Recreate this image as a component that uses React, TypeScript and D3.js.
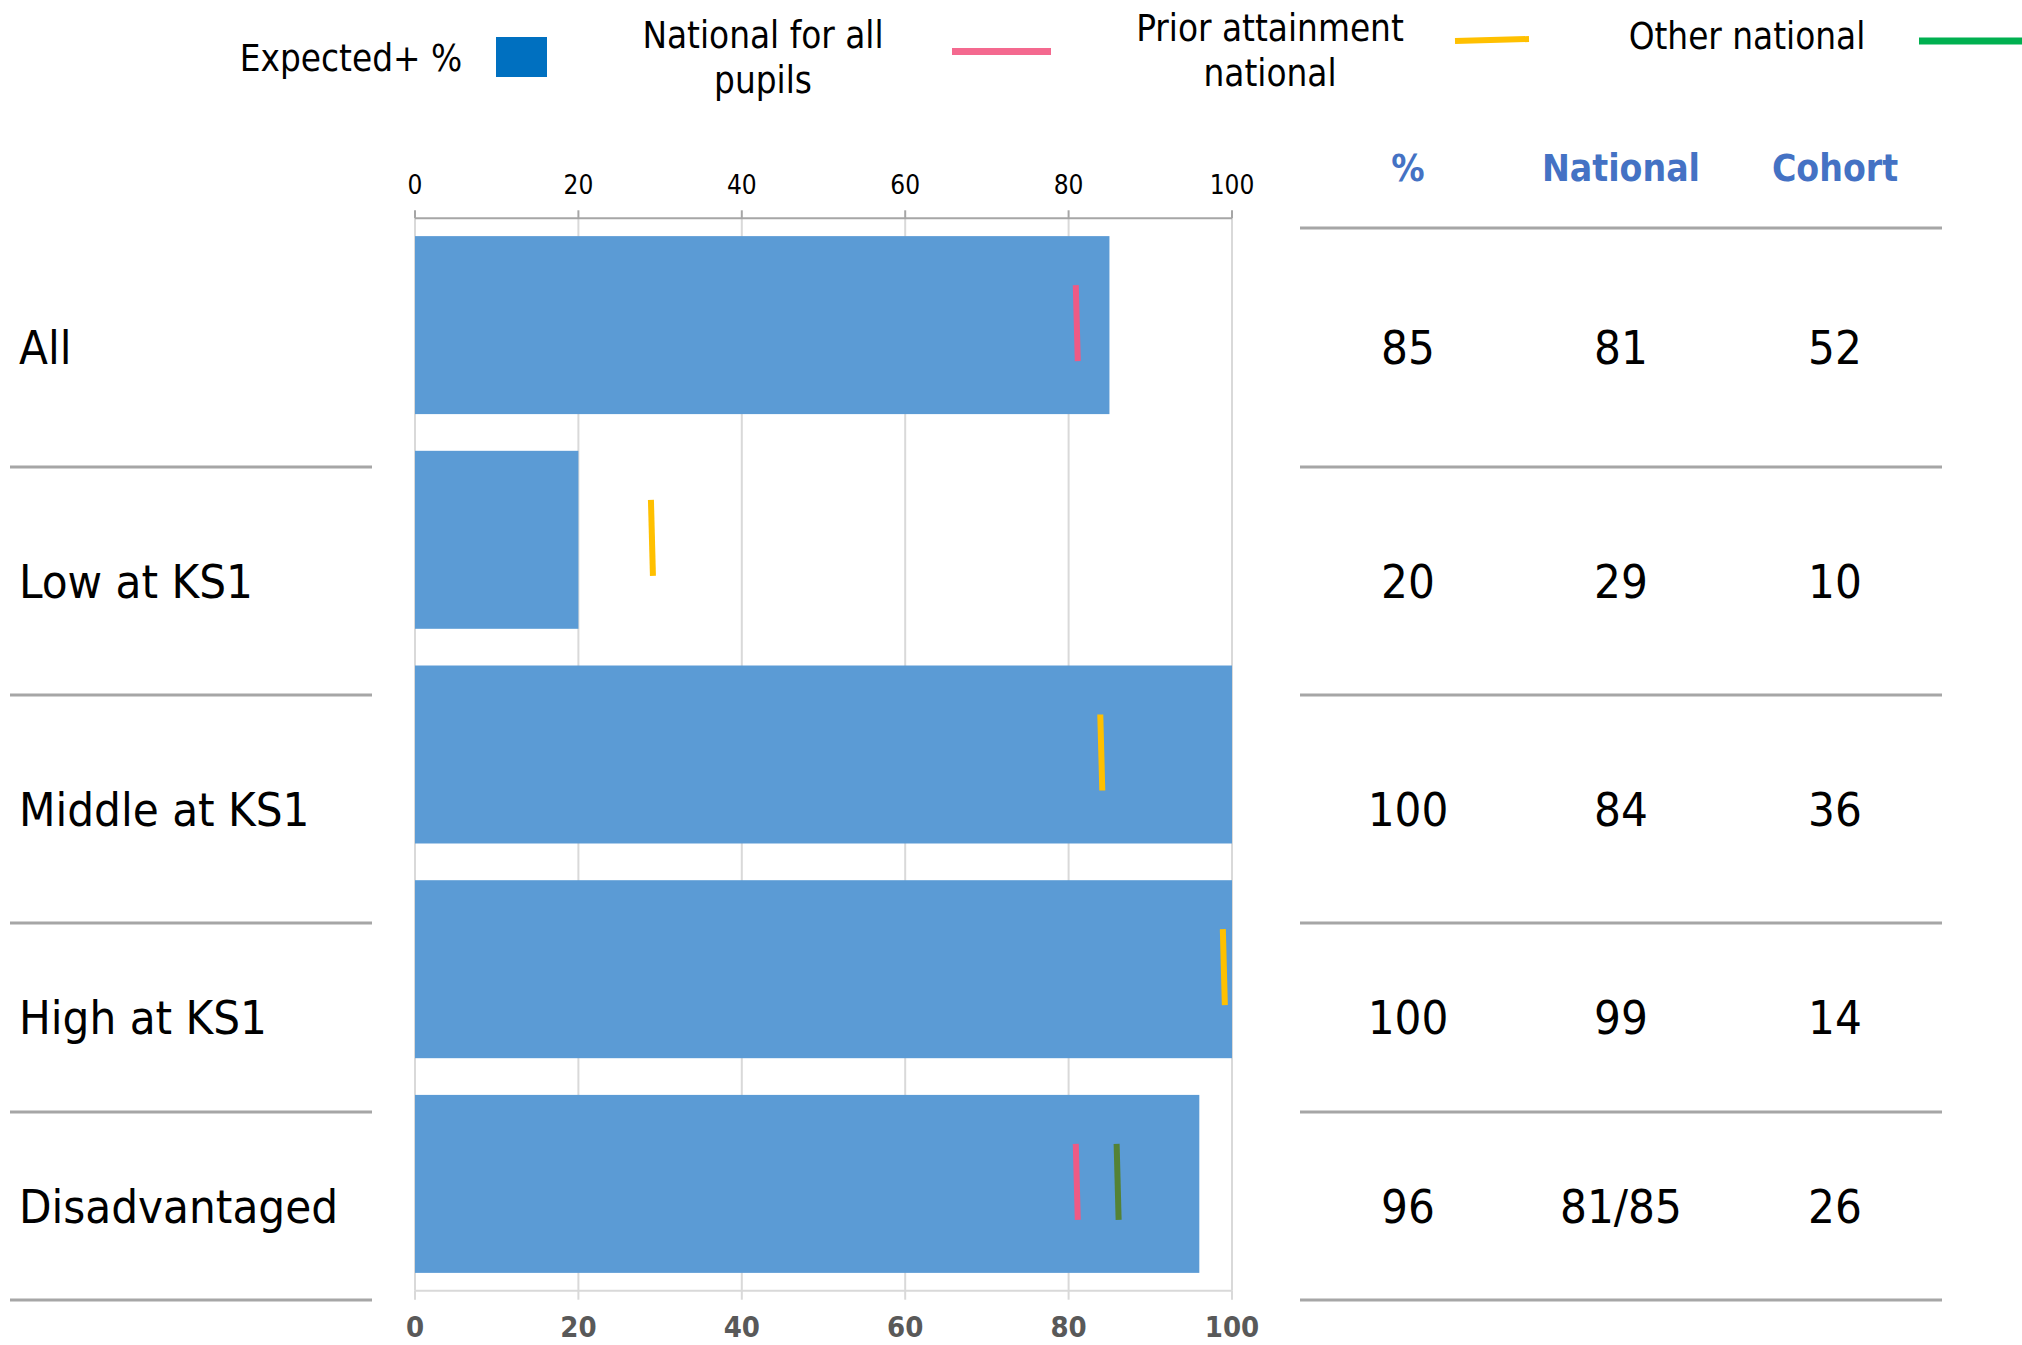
import React from "react";
import * as d3 from "d3";

const categories = ["All", "Low at KS1", "Middle at KS1", "High at KS1", "Disadvantaged"];
const expectedPct = [85, 20, 100, 100, 96];
const nationalAll: (number | null)[] = [81, null, null, null, 81];
const priorNational: (number | null)[] = [null, 29, 84, 99, null];
const otherNational: (number | null)[] = [null, null, null, null, 86];
const tableNational = ["81", "29", "84", "99", "81/85"];
const tableCohort = ["52", "10", "36", "14", "26"];
const tableHeaders = ["%", "National", "Cohort"];
const xTicks = [0, 20, 40, 60, 80, 100];

const W = 2022;
const H = 1345;
const COND = "'DejaVu Sans Condensed', 'DejaVu Sans', Verdana, sans-serif";
const NARROW = "'Liberation Sans Narrow', 'DejaVu Sans Condensed', sans-serif";

const BAR = "#5B9BD5";
const PINK = "#EE5A85";
const YELLOW = "#FFC000";
const GREEN_CHART = "#548235";
const GREEN_LEG = "#00B050";
const LINE = "#A6A6A6";
const GRID = "#D9D9D9";
const HEAD = "#4472C4";

export default function App() {
  const x = d3.scaleLinear().domain([0, 100]).range([415, 1232]);
  const y = d3
    .scaleBand<string>()
    .domain(categories)
    .range([218.3, 1290.7])
    .paddingInner(0.171)
    .paddingOuter(0.083);
  const axisTopY = 218.3;
  const axisBotY = 1290.7;
  const rowEdges = [228, 467, 695, 923, 1112, 1300];
  const tableCols = [1408, 1621, 1835];
  const markerLen = 76;

  const marker = (v: number | null, i: number, color: string, key: string) => {
    if (v == null) return null;
    const cy = (y(categories[i]) as number) + y.bandwidth() / 2 - 2;
    const cx = x(v);
    return (
      <line
        key={key}
        x1={cx - 1}
        x2={cx + 1}
        y1={cy - markerLen / 2}
        y2={cy + markerLen / 2}
        stroke={color}
        strokeWidth={6}
      />
    );
  };

  return (
    <svg
      width={W}
      height={H}
      style={{ position: "absolute", left: 0, top: 0, background: "#fff" }}
    >
      {/* Legend */}
      <g fontFamily={COND} fontSize={36.5} fill="#000">
        <text x={351} y={58} textAnchor="middle" dominantBaseline="central">
          Expected+ %
        </text>
        <rect x={496} y={37} width={51} height={40} fill="#0070C0" />
        <text x={763} y={35} textAnchor="middle" dominantBaseline="central">
          National for all
        </text>
        <text x={763} y={80} textAnchor="middle" dominantBaseline="central">
          pupils
        </text>
        <line x1={952} x2={1051} y1={51.5} y2={51.5} stroke="#F4698F" strokeWidth={7} />
        <text x={1270} y={28} textAnchor="middle" dominantBaseline="central">
          Prior attainment
        </text>
        <text x={1270} y={73} textAnchor="middle" dominantBaseline="central">
          national
        </text>
        <line x1={1455} x2={1529} y1={41} y2={39} stroke={YELLOW} strokeWidth={6} />
        <text x={1747} y={36} textAnchor="middle" dominantBaseline="central">
          Other national
        </text>
        <line x1={1919} x2={2022} y1={41} y2={41} stroke={GREEN_LEG} strokeWidth={7} />
      </g>

      {/* Gridlines */}
      {xTicks.map((t) => (
        <line
          key={"g" + t}
          x1={x(t)}
          x2={x(t)}
          y1={axisTopY}
          y2={axisBotY}
          stroke={GRID}
          strokeWidth={2}
        />
      ))}

      {/* Top axis */}
      <line x1={x(0)} x2={x(100)} y1={axisTopY} y2={axisTopY} stroke={LINE} strokeWidth={2} />
      {xTicks.map((t) => (
        <g key={"tt" + t}>
          <line x1={x(t)} x2={x(t)} y1={axisTopY - 8} y2={axisTopY} stroke={LINE} strokeWidth={2} />
          <text
            x={x(t)}
            y={185}
            textAnchor="middle"
            dominantBaseline="central"
            fontFamily={NARROW}
            fontSize={26}
            fill="#000"
          >
            {t}
          </text>
        </g>
      ))}

      {/* Bottom axis */}
      <line x1={x(0)} x2={x(100)} y1={axisBotY} y2={axisBotY} stroke={GRID} strokeWidth={2} />
      {xTicks.map((t) => (
        <g key={"tb" + t}>
          <line x1={x(t)} x2={x(t)} y1={axisBotY} y2={axisBotY + 9} stroke={GRID} strokeWidth={2} />
          <text
            x={x(t)}
            y={1327}
            textAnchor="middle"
            dominantBaseline="central"
            fontFamily={COND}
            fontWeight="bold"
            fontSize={29}
            fill="#595959"
          >
            {t}
          </text>
        </g>
      ))}

      {/* Bars */}
      {categories.map((c, i) => (
        <rect
          key={"b" + c}
          x={x(0)}
          y={y(c)}
          width={x(expectedPct[i]) - x(0)}
          height={y.bandwidth()}
          fill={BAR}
        />
      ))}

      {/* Markers */}
      {categories.map((c, i) => (
        <g key={"m" + c}>
          {marker(nationalAll[i], i, PINK, "n" + i)}
          {marker(priorNational[i], i, YELLOW, "p" + i)}
          {marker(otherNational[i], i, GREEN_CHART, "o" + i)}
        </g>
      ))}

      {/* Left separators */}
      {rowEdges.slice(1).map((ry, i) => (
        <line key={"ls" + i} x1={10} x2={372} y1={ry} y2={ry} stroke={LINE} strokeWidth={3} />
      ))}
      {/* Right separators */}
      {rowEdges.map((ry, i) => (
        <line key={"rs" + i} x1={1300} x2={1942} y1={ry} y2={ry} stroke={LINE} strokeWidth={3} />
      ))}

      {/* Row labels */}
      {categories.map((c, i) => (
        <text
          key={"l" + c}
          x={19}
          y={(rowEdges[i] + rowEdges[i + 1]) / 2}
          dominantBaseline="central"
          fontFamily={COND}
          fontSize={47}
          fill="#000"
        >
          {c}
        </text>
      ))}

      {/* Table headers */}
      {tableHeaders.map((h, j) => (
        <text
          key={"h" + h}
          x={tableCols[j]}
          y={168}
          textAnchor="middle"
          dominantBaseline="central"
          fontFamily={COND}
          fontWeight="bold"
          fontSize={37}
          fill={HEAD}
        >
          {h}
        </text>
      ))}

      {/* Table values */}
      {categories.map((c, i) => {
        const cy = (rowEdges[i] + rowEdges[i + 1]) / 2;
        const vals = [String(expectedPct[i]), tableNational[i], tableCohort[i]];
        return vals.map((v, j) => (
          <text
            key={"t" + i + j}
            x={tableCols[j]}
            y={cy}
            textAnchor="middle"
            dominantBaseline="central"
            fontFamily={COND}
            fontSize={47}
            fill="#000"
          >
            {v}
          </text>
        ));
      })}
    </svg>
  );
}
